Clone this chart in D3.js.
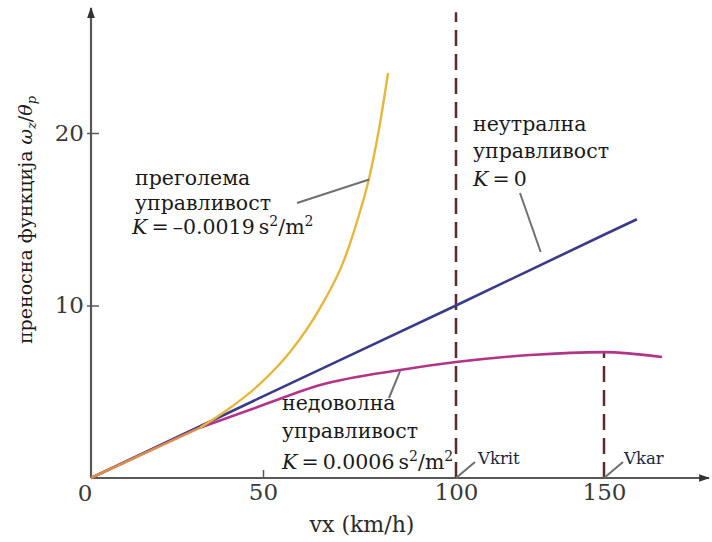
<!DOCTYPE html>
<html>
<head>
<meta charset="utf-8">
<script src="https://cdn.jsdelivr.net/npm/d3@7"></script>
<style>
  html, body { margin: 0; padding: 0; background: #fff; }
  svg { display: block; }
  text { font-family: "DejaVu Serif", "Liberation Serif", serif; }
</style>
</head>
<body>
<svg id="chart" width="712" height="542"></svg>
<script>
// ---- data ----
const xTickValues = [50, 100, 150];
const yTickValues = [10, 20];
const xBreaks = [0, 50, 100, 150];          // axis tick positions (as drawn in original)

// common segment (all three curves coincide)
const commonX = [0, 31.7];
const commonY = [0, 2.92];

// neutral steer K = 0
const neutralX = [0, 50, 100, 150, 161.1];
const neutralY = [0, 4.73, 10.0, 14.1, 15.0];

// oversteer K = -0.0019 (continues from the common segment)
const overX = [31.7, 40.4, 49.1, 57.0, 64.8, 71.2, 75.1, 77.5, 80.1, 82.4];
const overY = [2.92, 4.06, 5.45, 7.30, 9.86, 12.75, 15.42, 17.39, 20.29, 23.48];

// understeer K = 0.0006 (continues from the common segment)
const underX = [31.7, 50, 64.8, 85.5, 100, 125, 150, 169.6];
const underY = [2.92, 4.23, 5.39, 6.26, 6.72, 7.13, 7.30, 7.01];

const vKrit = 100, vKar = 150;

// ---- drawing ----
const svg = d3.select("#chart");
const x = d3.scaleLinear().domain(xBreaks).range([91, 263, 456, 604]);
const y = d3.scaleLinear().domain([0, 20]).range([478, 133]);

const axisColor = "#585858";
const dashColor = "#5b2b2b";
const tickFont = "Liberation Serif, serif";

const defs = svg.append("defs");
defs.append("marker").attr("id", "arr").attr("viewBox", "0 0 10 10")
  .attr("refX", 9).attr("refY", 5).attr("markerWidth", 5).attr("markerHeight", 5)
  .attr("markerUnits", "strokeWidth").attr("orient", "auto")
  .append("path").attr("d", "M0,1.5 L10,5 L0,8.5 Z").attr("fill", "#333");

// axes lines
svg.append("line").attr("x1", x(0)).attr("y1", y(0)).attr("x2", 709).attr("y2", y(0))
  .attr("stroke", axisColor).attr("stroke-width", 2.2).attr("marker-end", "url(#arr)");
svg.append("line").attr("x1", x(0)).attr("y1", y(0)).attr("x2", x(0)).attr("y2", 8)
  .attr("stroke", axisColor).attr("stroke-width", 2.2).attr("marker-end", "url(#arr)");

// x axis ticks
const gx = svg.append("g").attr("transform", `translate(0,${y(0)})`)
  .call(d3.axisBottom(x).tickValues(xTickValues).tickSize(-8).tickPadding(6)
        .tickFormat(d3.format("d")));
gx.select(".domain").remove();
gx.selectAll(".tick line").attr("stroke", axisColor).attr("stroke-width", 1.5)
  .filter(d => d !== 50).remove();
gx.selectAll(".tick text").attr("font-size", 23).attr("fill", "#3a3a3a")
  .attr("font-family", tickFont).attr("dy", "0.71em");

// y axis ticks
const gy = svg.append("g").attr("transform", `translate(${x(0)},0)`)
  .call(d3.axisLeft(y).tickValues(yTickValues).tickSize(-8).tickPadding(7)
        .tickFormat(d3.format("d")));
gy.select(".domain").remove();
gy.selectAll(".tick line").attr("stroke", axisColor).attr("stroke-width", 1.5)
  .attr("x1", -4);
gy.selectAll(".tick text").attr("font-size", 23).attr("fill", "#3a3a3a")
  .attr("font-family", tickFont);

// origin label
svg.append("text").attr("x", x(0) - 6).attr("y", y(0) + 23).attr("text-anchor", "middle")
  .attr("font-size", 23).attr("font-family", tickFont).attr("fill", "#3a3a3a").text("0");

// dashed vertical lines
svg.append("line").attr("x1", x(vKrit)).attr("x2", x(vKrit)).attr("y1", y(0)).attr("y2", y(27))
  .attr("stroke", dashColor).attr("stroke-width", 2.5).attr("stroke-dasharray", "16,8");
svg.append("line").attr("x1", x(vKar)).attr("x2", x(vKar)).attr("y1", y(0)).attr("y2", y(7.3))
  .attr("stroke", dashColor).attr("stroke-width", 2.5).attr("stroke-dasharray", "16,8");

// curves
const line = d3.line().x(d => x(d[0])).y(d => y(d[1])).curve(d3.curveMonotoneX);
const zip = (a, b) => a.map((v, i) => [v, b[i]]);
svg.append("path").datum(zip(neutralX, neutralY)).attr("d", line)
  .attr("fill", "none").attr("stroke", "#3a3a8a").attr("stroke-width", 2.6);
svg.append("path").datum(zip(underX, underY)).attr("d", line)
  .attr("fill", "none").attr("stroke", "#b3338a").attr("stroke-width", 2.6);
svg.append("path").datum(zip(overX, overY)).attr("d", line)
  .attr("fill", "none").attr("stroke", "#e5b83c").attr("stroke-width", 2.4);
svg.append("path").datum(zip(commonX, commonY)).attr("d", line)
  .attr("fill", "none").attr("stroke", "#e08a4c").attr("stroke-width", 2.6);

// pointer lines
const ptr = (x1, y1, x2, y2) => svg.append("line").attr("x1", x1).attr("y1", y1)
  .attr("x2", x2).attr("y2", y2).attr("stroke", "#707070").attr("stroke-width", 2);
ptr(297, 203, x(77.5), y(17.3));
ptr(520, 193, x(128.6), y(13.1));
ptr(389, 398, x(85.5), y(6.26) + 1);
ptr(x(vKrit), y(0), x(vKrit) + 19, y(0) - 16);
ptr(x(vKar), y(0), x(vKar) + 19, y(0) - 16);

// annotation text
const annSize = 20.5;
function plain(xp, yp, s) {
  svg.append("text").attr("x", xp).attr("y", yp).attr("font-size", annSize)
    .attr("fill", "#1a1a1a").text(s);
}
function kLine(xp, yp, val, unit) {
  const t = svg.append("text").attr("x", xp).attr("y", yp).attr("font-size", annSize).attr("fill", "#1a1a1a");
  t.append("tspan").attr("font-style", "italic").text("K");
  t.append("tspan").text("\u2009=\u2009" + val);
  if (unit) {
    t.append("tspan").text("\u2009s");
    t.append("tspan").attr("dy", -8).attr("font-size", 14).text("2");
    t.append("tspan").attr("dy", 8).text("/m");
    t.append("tspan").attr("dy", -8).attr("font-size", 14).text("2");
  }
}
plain(135, 185, "преголема");
plain(135, 210, "управливост");
kLine(132, 234, "–0.0019", true);
plain(473, 131, "неутрална");
plain(473, 158, "управливост");
kLine(473, 186, "0", false);
plain(282, 410, "недоволна");
plain(282, 438, "управливост");
kLine(282, 469, "0.0006", true);

svg.append("text").attr("x", x(vKrit) + 22).attr("y", 464).attr("font-size", 16.5)
  .attr("fill", "#1c2540").text("Vkrit");
svg.append("text").attr("x", x(vKar) + 20).attr("y", 464).attr("font-size", 16.5)
  .attr("fill", "#1c2540").text("Vkar");

// axis titles
svg.append("text").attr("x", 362).attr("y", 532).attr("text-anchor", "middle")
  .attr("font-size", 22).attr("fill", "#2a2a2a").text("vx (km/h)");
const yt = svg.append("text").attr("transform", "translate(32,220) rotate(-90)")
  .attr("text-anchor", "middle").attr("font-size", 19).attr("fill", "#1a1a1a");
yt.append("tspan").text("преносна функција ");
yt.append("tspan").attr("font-style", "italic").text("ω");
yt.append("tspan").attr("font-style", "italic").attr("font-size", 13).attr("dy", 4).text("z");
yt.append("tspan").attr("dy", -4).text("/");
yt.append("tspan").attr("font-style", "italic").text("θ");
yt.append("tspan").attr("font-style", "italic").attr("font-size", 13).attr("dy", 4).text("p");
</script>
</body>
</html>
